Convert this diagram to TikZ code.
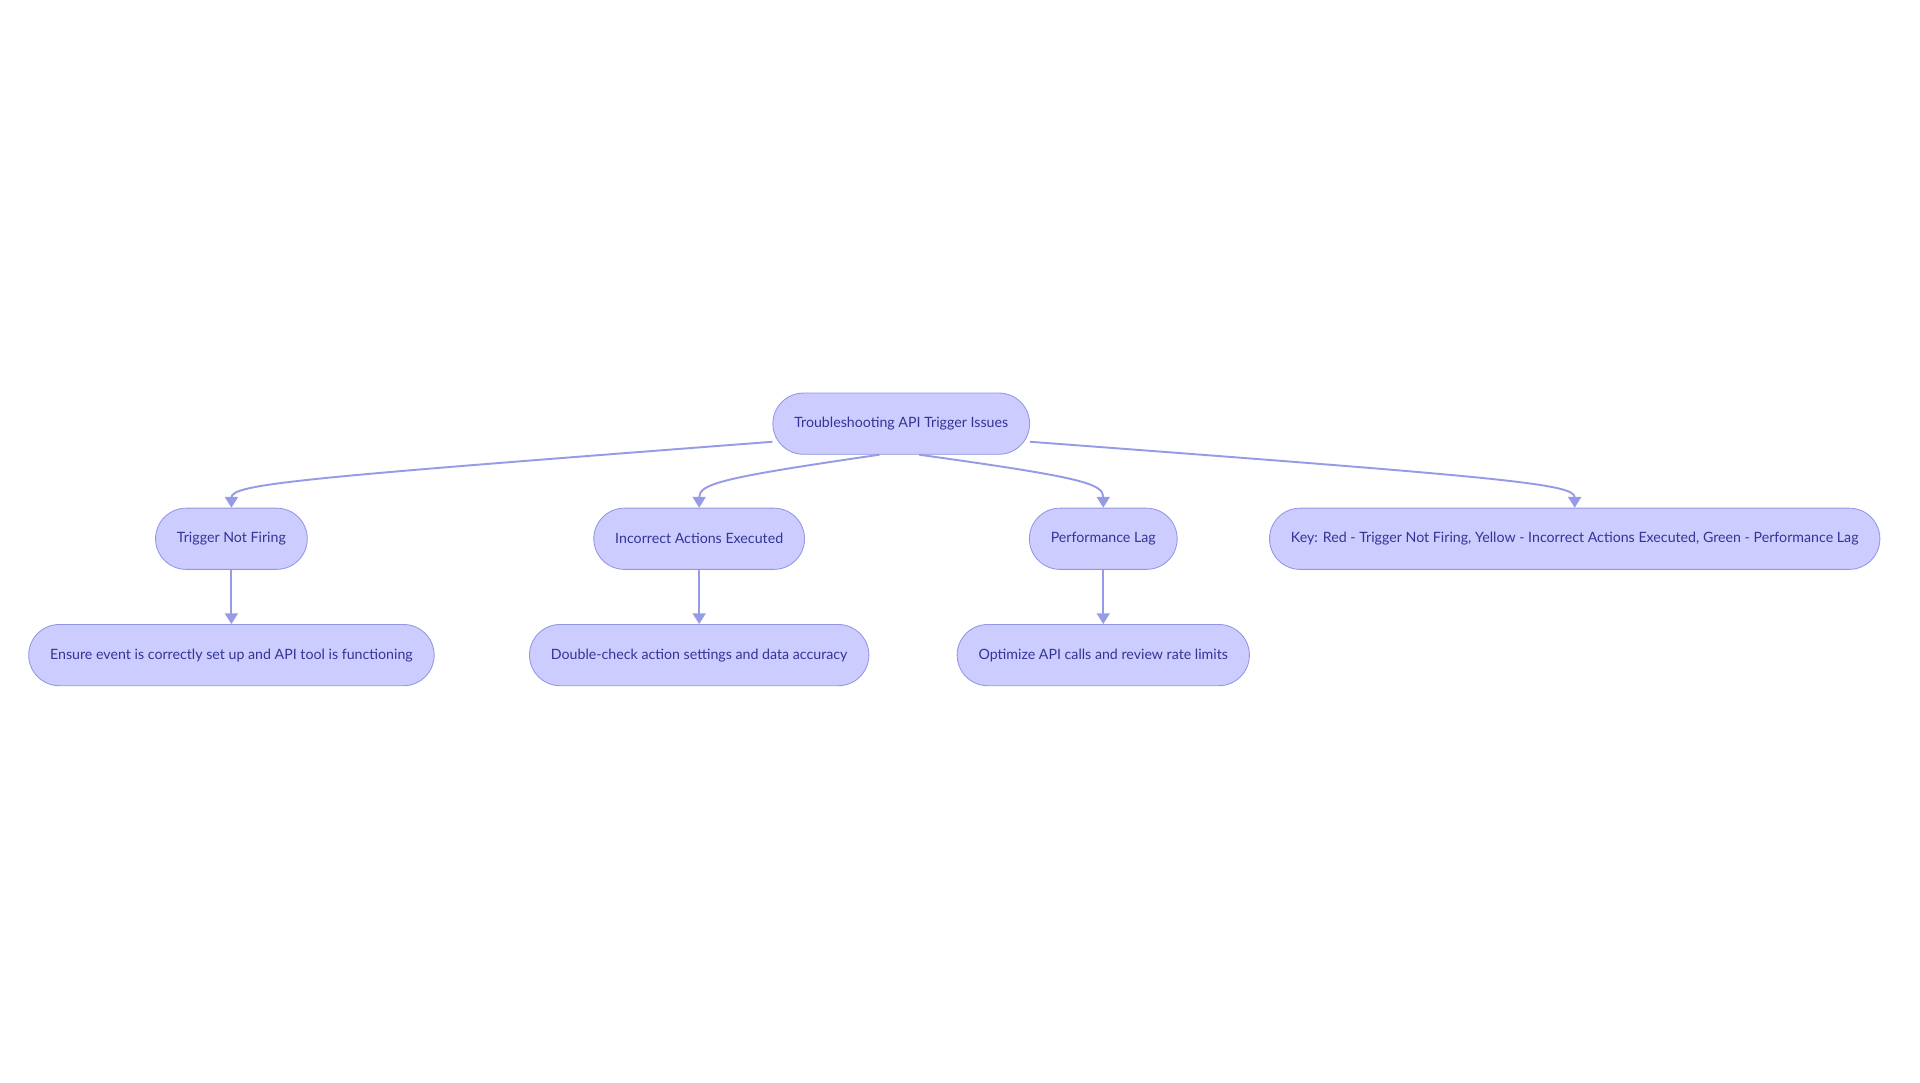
\documentclass[tikz,border=0pt]{standalone}
\usepackage{fontspec}
\setmainfont{Lato}
\usetikzlibrary{positioning,arrows.meta}
\definecolor{NodeFill}{RGB}{204, 204, 255}
\definecolor{NodeLine}{RGB}{147, 150, 230}
\definecolor{NodeText}{RGB}{52, 52, 150}
\definecolor{EdgeLine}{RGB}{150, 155, 230}
\begin{document}
\begin{tikzpicture}[x=0.02cm, y=-0.02cm,
    box/.style={draw=NodeLine, fill=NodeFill, text=NodeText, rounded corners=0.5cm,
      minimum height=1cm, inner xsep=0.35cm, font=\fontsize{6.6}{8}\selectfont},
    edge/.style={draw=EdgeLine, line width=0.9pt, -{Triangle[length=5pt,width=6pt]}}]
  \useasboundingbox (0,0) rectangle (1568,884);
  % Root
  \node[box] (root) at (736,346) {Troubleshooting API Trigger Issues};
  % Issues
  \node[box] (notfiring) at (189,440) {Trigger Not Firing};
  \node[box] (wrongaction) at (571,440) {Incorrect Actions Executed};
  \node[box] (perflag) at (901,440) {Performance Lag};
  \node[box] (colorkey) at (1286,440) {Key: Red - Trigger Not Firing, Yellow - Incorrect Actions Executed, Green - Performance Lag};
  % Fixes
  \node[box] (fixfiring) at (189,535) {Ensure event is correctly set up and API tool is functioning};
  \node[box] (fixaction) at (571,535) {Double-check action settings and data accuracy};
  \node[box] (fixlag) at (901,535) {Optimize API calls and review rate limits};
  % Connectors
  \draw[edge] (root.188) .. controls (250,390) and (189,395) .. (notfiring.north);
  \draw[edge] (root.235) .. controls (590,390) and (571,395) .. (wrongaction.north);
  \draw[edge] (root.300) .. controls (885,390) and (901,395) .. (perflag.north);
  \draw[edge] (root.352) .. controls (1230,390) and (1286,395) .. (colorkey.north);
  \draw[edge] (notfiring) -- (fixfiring);
  \draw[edge] (wrongaction) -- (fixaction);
  \draw[edge] (perflag) -- (fixlag);
\end{tikzpicture}
\end{document}
